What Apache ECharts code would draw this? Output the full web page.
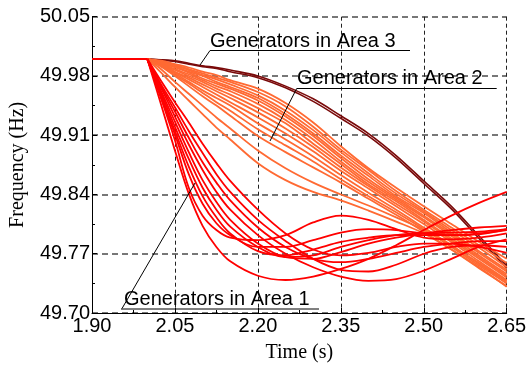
<!DOCTYPE html>
<html>
<head>
<meta charset="utf-8">
<script src="https://cdn.jsdelivr.net/npm/echarts@6/dist/echarts.min.js"></script>
<style>
html,body{margin:0;padding:0;background:#fff;}
#chart{width:531px;height:368px;}
</style>
</head>
<body>
<div id="chart"></div>
<script>
// ---- Data ----
const X_TICKS = [1.90, 2.05, 2.20, 2.35, 2.50, 2.65];
const Y_TICKS = [49.70, 49.77, 49.84, 49.91, 49.98, 50.05];

const TIME_FLAT = [1.90, 2.00];
const FLAT = [50.000, 50.000];

const TIME = [2.00, 2.025, 2.05, 2.075, 2.10, 2.125, 2.15, 2.20, 2.25, 2.30, 2.35, 2.40, 2.45, 2.50, 2.55, 2.60, 2.65];

// Area 3 generators (dark red)
const area3_g1 = [50.000,49.999,49.998,49.995,49.992,49.990,49.987,49.980,49.968,49.953,49.933,49.912,49.886,49.856,49.826,49.791,49.756];
const area3_g2 = [50.000,49.999,49.997,49.994,49.991,49.989,49.985,49.978,49.966,49.950,49.930,49.909,49.883,49.853,49.823,49.788,49.753];

// Area 2 generators (orange)
const area2_g1  = [50.000,49.998,49.994,49.990,49.985,49.981,49.975,49.965,49.948,49.925,49.897,49.871,49.848,49.826,49.805,49.784,49.764];
const area2_g2  = [50.000,49.997,49.993,49.988,49.983,49.978,49.973,49.961,49.944,49.920,49.893,49.869,49.844,49.822,49.801,49.780,49.759];
const area2_g3  = [50.000,49.997,49.992,49.987,49.981,49.976,49.970,49.957,49.939,49.916,49.890,49.865,49.841,49.820,49.798,49.777,49.754];
const area2_g4  = [50.000,49.996,49.991,49.985,49.980,49.973,49.967,49.954,49.935,49.912,49.886,49.862,49.838,49.818,49.795,49.773,49.751];
const area2_g5  = [50.000,49.995,49.990,49.984,49.977,49.971,49.965,49.951,49.932,49.909,49.883,49.858,49.836,49.815,49.793,49.771,49.749];
const area2_g6  = [50.000,49.995,49.988,49.982,49.975,49.968,49.962,49.947,49.928,49.905,49.879,49.855,49.834,49.813,49.791,49.768,49.746];
const area2_g7  = [50.000,49.994,49.987,49.980,49.973,49.965,49.958,49.942,49.924,49.900,49.876,49.852,49.832,49.810,49.788,49.766,49.744];
const area2_g8  = [50.000,49.994,49.985,49.978,49.970,49.962,49.954,49.937,49.918,49.896,49.872,49.850,49.829,49.808,49.786,49.764,49.742];
const area2_g9  = [50.000,49.993,49.984,49.976,49.967,49.958,49.949,49.931,49.912,49.891,49.868,49.847,49.826,49.805,49.784,49.761,49.739];
const area2_g10 = [50.000,49.992,49.983,49.973,49.963,49.954,49.945,49.924,49.905,49.885,49.863,49.842,49.822,49.801,49.780,49.758,49.737];
const area2_g11 = [50.000,49.992,49.981,49.971,49.960,49.949,49.939,49.917,49.898,49.879,49.858,49.838,49.819,49.799,49.778,49.756,49.735];
const area2_g12 = [50.000,49.991,49.980,49.968,49.956,49.945,49.933,49.909,49.890,49.872,49.854,49.835,49.816,49.796,49.775,49.753,49.732];
const area2_g13 = [50.000,49.988,49.973,49.959,49.945,49.931,49.918,49.892,49.871,49.854,49.840,49.827,49.813,49.798,49.779,49.759,49.738];
const area2_g14 = [50.000,49.984,49.967,49.951,49.935,49.919,49.905,49.877,49.857,49.843,49.833,49.821,49.808,49.794,49.775,49.754,49.731];

// Area 1 generators (red)
const area1_g1  = [50.000,49.946,49.892,49.841,49.803,49.778,49.761,49.744,49.739,49.743,49.752,49.764,49.780,49.798,49.815,49.830,49.843];
const area1_g2  = [50.000,49.953,49.904,49.848,49.815,49.798,49.789,49.786,49.792,49.807,49.815,49.810,49.799,49.789,49.787,49.789,49.794];
const area1_g3  = [50.000,49.955,49.911,49.864,49.829,49.806,49.792,49.778,49.778,49.786,49.795,49.799,49.798,49.794,49.792,49.793,49.799];
const area1_g4  = [50.000,49.957,49.915,49.873,49.838,49.813,49.794,49.773,49.768,49.775,49.784,49.789,49.792,49.792,49.792,49.794,49.798];
const area1_g5  = [50.000,49.960,49.920,49.882,49.848,49.822,49.802,49.778,49.766,49.768,49.778,49.786,49.792,49.794,49.795,49.796,49.799];
const area1_g6  = [50.000,49.962,49.926,49.890,49.857,49.831,49.810,49.782,49.766,49.764,49.772,49.782,49.789,49.794,49.798,49.801,49.803];
const area1_g7  = [50.000,49.966,49.932,49.899,49.869,49.843,49.822,49.792,49.770,49.754,49.743,49.738,49.740,49.750,49.764,49.778,49.787];
const area1_g8  = [50.000,49.968,49.938,49.907,49.878,49.854,49.833,49.801,49.778,49.764,49.760,49.764,49.771,49.778,49.782,49.785,49.785];
const area1_g9  = [50.000,49.970,49.943,49.915,49.889,49.864,49.843,49.810,49.785,49.764,49.751,49.749,49.757,49.770,49.778,49.780,49.778];
const area1_g10 = [50.000,49.974,49.949,49.925,49.900,49.877,49.856,49.822,49.794,49.775,49.768,49.771,49.778,49.782,49.782,49.778,49.771];

const AREA3 = [area3_g1, area3_g2];
const AREA2 = [area2_g1,area2_g2,area2_g3,area2_g4,area2_g5,area2_g6,area2_g7,area2_g8,area2_g9,area2_g10,area2_g11,area2_g12,area2_g13,area2_g14];
const AREA1 = [area1_g1,area1_g2,area1_g3,area1_g4,area1_g5,area1_g6,area1_g7,area1_g8,area1_g9,area1_g10];

// ---- Build ----
const X0 = X_TICKS[0], Y0 = Y_TICKS[0];
const XSTEP = 0.15, YSTEP = 0.07;
function pts(times, vals){ return vals.map((v,i)=>[+(times[i]-X0).toFixed(4), +(v-Y0).toFixed(4)]); }

const series = [];
function addGroup(arr, color, width){
  arr.forEach(vals=>{
    series.push({type:'line', data: pts(TIME, vals), showSymbol:false, smooth:0.35,
      lineStyle:{color:color, width:width}, silent:true, z:3});
  });
}
addGroup(AREA3, '#7a0a0a', 1.6);
addGroup(AREA2, '#ff6a33', 1.8);
addGroup(AREA1, '#ff0000', 1.8);
series.push({type:'line', data: pts(TIME_FLAT, FLAT), showSymbol:false,
  lineStyle:{color:'#ff0000', width:2}, silent:true, z:4});

const SANS = '"Liberation Sans", Arial, sans-serif';
const SERIF = '"Liberation Serif", "Times New Roman", serif';

const chart = echarts.init(document.getElementById('chart'), null, {renderer:'canvas'});
chart.setOption({
  animation:false,
  backgroundColor:'#fff',
  grid:{left:90, right:24.3, top:16.7, bottom:51.3, containLabel:false},
  xAxis:{
    type:'value', min:0, max:X_TICKS[X_TICKS.length-1]-X0, interval:XSTEP,
    name:'Time (s)', nameLocation:'middle', nameGap:30,
    nameTextStyle:{fontFamily:SERIF, fontSize:20, color:'#000'},
    axisLine:{show:true, onZero:false, lineStyle:{color:'#000', width:1}},
    axisTick:{show:true, inside:true, length:5, lineStyle:{color:'#000'}},
    minorTick:{show:true, splitNumber:2, length:3, lineStyle:{color:'#000'}},
    axisLabel:{fontFamily:SANS, fontSize:20, color:'#000', margin:3,
      formatter:v=>(X0+v).toFixed(2)},
    splitLine:{show:true, lineStyle:{color:'#222', width:1, type:[4,3]}}
  },
  yAxis:{
    type:'value', min:0, max:+(Y_TICKS[Y_TICKS.length-1]-Y0).toFixed(4), interval:YSTEP,
    name:'Frequency (Hz)', nameLocation:'middle', nameGap:64,
    nameTextStyle:{fontFamily:SERIF, fontSize:20, color:'#000'},
    axisLine:{show:true, onZero:false, lineStyle:{color:'#000', width:1}},
    axisTick:{show:true, inside:true, length:5, lineStyle:{color:'#000'}},
    minorTick:{show:true, splitNumber:2, length:3, lineStyle:{color:'#000'}},
    axisLabel:{fontFamily:SANS, fontSize:20, color:'#000', margin:2,
      formatter:v=>(Y0+v).toFixed(2)},
    splitLine:{show:true, lineStyle:{color:'#777', width:2, type:[6,4]}}
  },
  series:series,
  graphic:[
    {type:'text', x:210, y:31, z:10, style:{text:'Generators in Area 3', font:'20px '+SANS, fill:'#000'}},
    {type:'line', z:10, shape:{x1:210, y1:50.5, x2:410, y2:50.5}, style:{stroke:'#000', lineWidth:1}},
    {type:'line', z:10, shape:{x1:210, y1:50.5, x2:200, y2:65}, style:{stroke:'#000', lineWidth:1}},

    {type:'text', x:297, y:68, z:10, style:{text:'Generators in Area 2', font:'20px '+SANS, fill:'#000'}},
    {type:'line', z:10, shape:{x1:296.7, y1:88.5, x2:496.7, y2:88.5}, style:{stroke:'#000', lineWidth:1}},
    {type:'line', z:10, shape:{x1:296.7, y1:88.5, x2:270, y2:141}, style:{stroke:'#000', lineWidth:1}},

    {type:'text', x:124, y:289, z:10, style:{text:'Generators in Area 1', font:'20px '+SANS, fill:'#000'}},
    {type:'line', z:10, shape:{x1:121, y1:309, x2:319, y2:309}, style:{stroke:'#000', lineWidth:1}},
    {type:'line', z:10, shape:{x1:122, y1:308.5, x2:195, y2:183}, style:{stroke:'#000', lineWidth:1}}
  ]
});
</script>
</body>
</html>
